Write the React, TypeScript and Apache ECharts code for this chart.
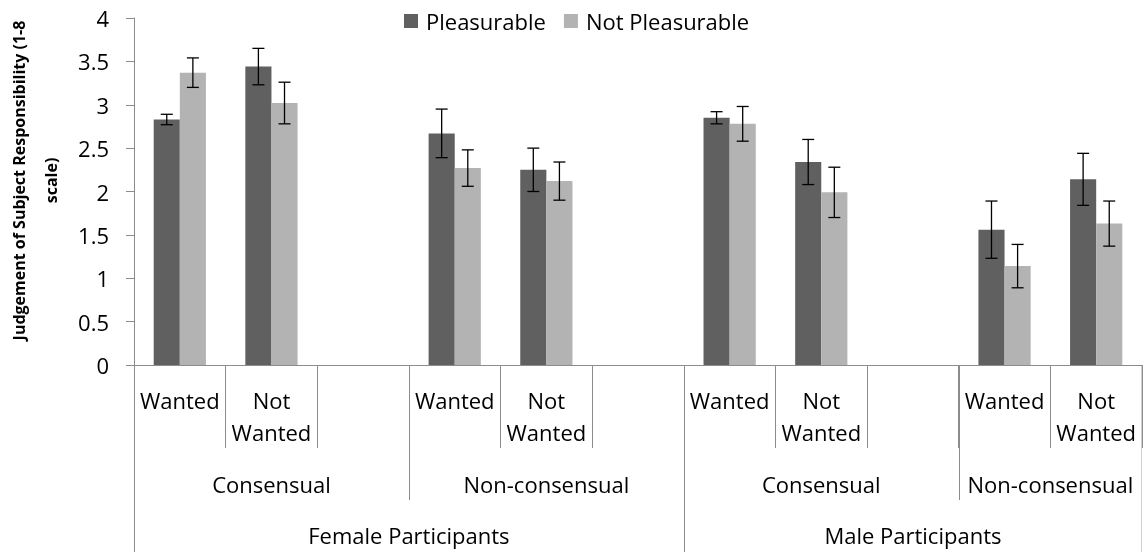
import { useEffect, useRef } from "react";
import * as echarts from "echarts";

const categories = [
  "Wanted", "Not\nWanted", "",
  "Wanted", "Not\nWanted", "",
  "Wanted", "Not\nWanted", "",
  "Wanted", "Not\nWanted",
];
const pleasurable = [2.83, 3.44, null, 2.67, 2.25, null, 2.85, 2.34, null, 1.56, 2.14];
const notPleasurable = [3.37, 3.02, null, 2.27, 2.12, null, 2.78, 1.99, null, 1.14, 1.63];
const pleasurableErr = [0.06, 0.21, null, 0.28, 0.25, null, 0.07, 0.26, null, 0.33, 0.3];
const notPleasurableErr = [0.17, 0.24, null, 0.21, 0.22, null, 0.2, 0.29, null, 0.25, 0.26];

const consentLabels = ["Consensual", "Non-consensual", "Consensual", "Non-consensual"];
const consentSpans = [3, 3, 3, 2];
const participantLabels = ["Female Participants", "Male Participants"];
const participantSpans = [6, 5];

const yTicks = { min: 0, max: 4, interval: 0.5 };

const FONT = "'Open Sans', Lato, sans-serif";
const AXIS_GRAY = "#8c8c8c";
const DARK = "#606060";
const LIGHT = "#b3b3b3";
const CAT_GAP = 0.43;
const FS = 22;

function errData(vals: (number | null)[], errs: (number | null)[]) {
  const out: number[][] = [];
  vals.forEach((v, i) => {
    if (v != null && errs[i] != null) out.push([i, v, errs[i] as number]);
  });
  return out;
}

function errRender(side: number) {
  return (params: any, api: any) => {
    const idx = api.value(0);
    const v = api.value(1);
    const e = api.value(2);
    const hi = api.coord([idx, v + e]);
    const lo = api.coord([idx, v - e]);
    const band = api.size([1, 0])[0];
    const bw = (band * (1 - CAT_GAP)) / 2;
    const x = hi[0] + (side * bw) / 2;
    const cap = 6;
    const style = { stroke: "#000", lineWidth: 1.3 };
    return {
      type: "group",
      children: [
        { type: "line", shape: { x1: x, y1: hi[1], x2: x, y2: lo[1] }, style },
        { type: "line", shape: { x1: x - cap, y1: hi[1], x2: x + cap, y2: hi[1] }, style },
        { type: "line", shape: { x1: x - cap, y1: lo[1], x2: x + cap, y2: lo[1] }, style },
      ],
    };
  };
}

export default function App() {
  const ref = useRef<HTMLDivElement>(null);
  useEffect(() => {
    const chart = echarts.init(ref.current!, null, { renderer: "svg" });
    chart.setOption({
      animation: false,
      textStyle: { fontFamily: FONT },
      legend: {
        left: 399,
        top: 5,
        itemWidth: 14,
        itemHeight: 14,
        itemGap: 18,
        icon: "rect",
        textStyle: { fontSize: FS, color: "#000", fontFamily: FONT, padding: [0, 0, 0, 3] },
        data: ["Pleasurable", "Not Pleasurable"],
      },
      grid: { left: 134, right: 1, top: 18, bottom: 189, containLabel: false, outerBoundsMode: "none" },
      xAxis: {
        type: "category",
        data: categories,
        boundaryGap: true,
        axisLine: { lineStyle: { color: AXIS_GRAY, width: 1 } },
        axisTick: { show: true, interval: 0, length: 83, lineStyle: { color: AXIS_GRAY } },
        axisLabel: {
          interval: 0,
          fontSize: FS,
          lineHeight: 32,
          color: "#000",
          fontFamily: FONT,
          margin: 19,
        },
      },
      yAxis: {
        type: "value",
        min: yTicks.min,
        max: yTicks.max,
        interval: yTicks.interval,
        name: "Judgement of Subject Responsibility (1-8\nscale)",
        nameLocation: "middle",
        nameRotate: 90,
        nameGap: 66,
        nameTextStyle: {
          fontSize: 16,
          fontWeight: "bold",
          color: "#000",
          lineHeight: 32,
          fontFamily: FONT,
          padding: [0, 0, 0, 22],
        },
        axisLine: { show: true, lineStyle: { color: AXIS_GRAY } },
        axisTick: { show: true, length: 8, lineStyle: { color: AXIS_GRAY } },
        splitLine: { show: false },
        axisLabel: { fontSize: FS, color: "#000", margin: 25, fontFamily: FONT },
      },
      series: [
        {
          name: "Pleasurable",
          type: "bar",
          data: pleasurable,
          itemStyle: { color: DARK },
          barGap: "0%",
          barCategoryGap: CAT_GAP * 100 + "%",
        },
        {
          name: "Not Pleasurable",
          type: "bar",
          data: notPleasurable,
          itemStyle: { color: LIGHT },
          barGap: "0%",
          barCategoryGap: CAT_GAP * 100 + "%",
        },
        {
          type: "custom",
          renderItem: errRender(-1),
          data: errData(pleasurable, pleasurableErr),
          encode: { x: 0, y: 1 },
          z: 5,
          silent: true,
        },
        {
          type: "custom",
          renderItem: errRender(1),
          data: errData(notPleasurable, notPleasurableErr),
          encode: { x: 0, y: 1 },
          z: 5,
          silent: true,
        },
      ],
    });

    const c0 = chart.convertToPixel({ xAxisIndex: 0 }, 0) as number;
    const c1 = chart.convertToPixel({ xAxisIndex: 0 }, 1) as number;
    const band = c1 - c0;
    const start = c0 - band / 2;
    const axisY = chart.convertToPixel({ yAxisIndex: 0 }, 0) as number;
    const lvl2End = axisY + 135;
    const lvl3End = 552;
    const lvl2Y = 484;
    const lvl3Y = 535;
    const lineStyle = { stroke: AXIS_GRAY, lineWidth: 1 };
    const els: any[] = [];
    const tStyle = (text: string, x: number, y: number) => ({
      type: "text",
      x,
      y,
      style: { text, fontSize: FS, fontFamily: FONT, fill: "#000", align: "center", verticalAlign: "middle" },
    });
    let pos = 0;
    consentLabels.forEach((lab, i) => {
      const x0 = start + pos * band;
      const x1 = start + (pos + consentSpans[i]) * band;
      els.push(tStyle(lab, (x0 + x1) / 2, lvl2Y));
      if (pos > 0) {
        els.push({ type: "line", shape: { x1: Math.round(x0) + 0.5, y1: axisY, x2: Math.round(x0) + 0.5, y2: lvl2End }, style: lineStyle });
      }
      pos += consentSpans[i];
    });
    pos = 0;
    participantLabels.forEach((lab, i) => {
      const x0 = start + pos * band;
      const x1 = start + (pos + participantSpans[i]) * band;
      els.push(tStyle(lab, (x0 + x1) / 2, lvl3Y));
      els.push({ type: "line", shape: { x1: Math.round(x0) + 0.5, y1: axisY, x2: Math.round(x0) + 0.5, y2: lvl3End }, style: lineStyle });
      pos += participantSpans[i];
    });
    const xEnd = start + pos * band;
    els.push({ type: "line", shape: { x1: Math.round(xEnd) - 0.5, y1: axisY, x2: Math.round(xEnd) - 0.5, y2: lvl3End }, style: { stroke: "#d0d0d0", lineWidth: 1 } });
    chart.setOption({ graphic: els });

    return () => chart.dispose();
  }, []);
  return <div ref={ref} style={{ position: "fixed", left: 0, top: 0, width: 1143, height: 554 }} />;
}
